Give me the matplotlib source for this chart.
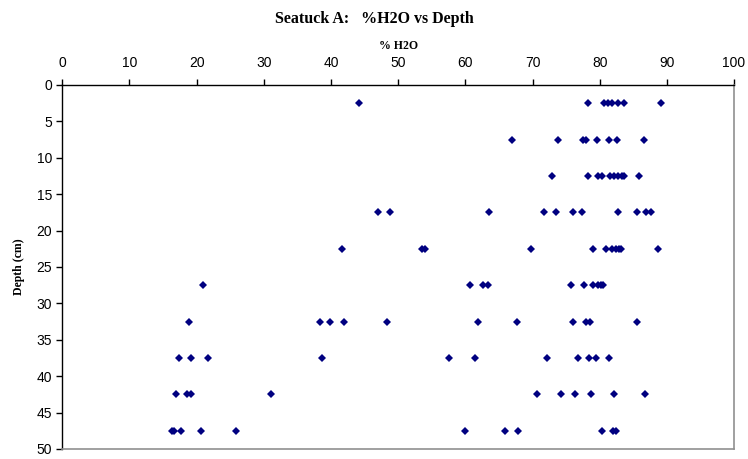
import matplotlib.pyplot as plt
import numpy as np

# % H2O readings per depth interval (cm)
depths = [2.5, 7.5, 12.5, 17.5, 22.5, 27.5, 32.5, 37.5, 42.5, 47.5]
h2o = [
    [44.1, 78.2, 80.6, 81.2, 81.8, 82.8, 83.6, 89.1],
    [66.9, 73.8, 77.5, 78.0, 79.6, 81.4, 82.6, 86.6],
    [72.9, 78.3, 79.8, 80.4, 81.5, 82.1, 82.7, 83.3, 83.6, 85.9],
    [47.0, 48.8, 63.5, 71.7, 73.5, 76.1, 77.3, 82.8, 85.6, 86.9, 87.6],
    [41.6, 53.6, 54.0, 69.8, 79.0, 80.9, 81.8, 82.4, 82.9, 83.2, 88.7],
    [21.0, 60.7, 62.6, 63.4, 75.8, 77.7, 79.0, 79.7, 80.2, 80.5],
    [18.9, 38.4, 39.9, 42.0, 48.3, 61.9, 67.7, 76.0, 78.0, 78.6, 85.5],
    [17.4, 19.1, 21.7, 38.7, 57.6, 61.4, 72.2, 76.7, 78.4, 79.5, 81.4],
    [16.9, 18.5, 19.1, 31.0, 70.6, 74.3, 76.4, 78.7, 82.1, 86.8],
    [16.3, 16.7, 17.6, 20.6, 25.9, 59.9, 65.9, 67.9, 80.3, 82.0, 82.4],
]

plt.rcParams['font.family'] = ['Liberation Sans', 'DejaVu Sans']
serif = ['Liberation Serif', 'DejaVu Serif']

fig = plt.figure(figsize=(7.48, 4.59), dpi=100)
ax = fig.add_axes([0.0833, 0.022, 0.898, 0.793])

for d, vals in zip(depths, h2o):
    ax.plot(vals, [d] * len(vals), linestyle='none', marker='D', markersize=4.5,
            color='#000080', markeredgewidth=0)

ax.set_xlim(0, 100)
ax.set_ylim(50, 0)
ax.set_xticks(np.arange(0, 101, 10))
ax.set_yticks(np.arange(0, 51, 5))
ax.xaxis.tick_top()
ax.xaxis.set_label_position('top')
ax.tick_params(axis='both', labelsize=10, length=4, width=1, direction='out')
ax.tick_params(axis='x', pad=7)

for s in ['top', 'left']:
    ax.spines[s].set_color('black')
    ax.spines[s].set_linewidth(1)
for s in ['right', 'bottom']:
    ax.spines[s].set_color('#909090')
    ax.spines[s].set_linewidth(1.2)

ax.set_xlabel('% H2O', fontfamily=serif, fontweight='bold', fontsize=8.5, labelpad=5)
ax.set_ylabel('Depth (cm)', fontfamily=serif, fontweight='bold', fontsize=8.5, labelpad=8)
fig.text(0.5, 0.958, 'Seatuck A:   %H2O vs Depth', ha='center', va='center',
         fontfamily=serif, fontweight='bold', fontsize=11.5)

fig.savefig('out.png', dpi=100)
